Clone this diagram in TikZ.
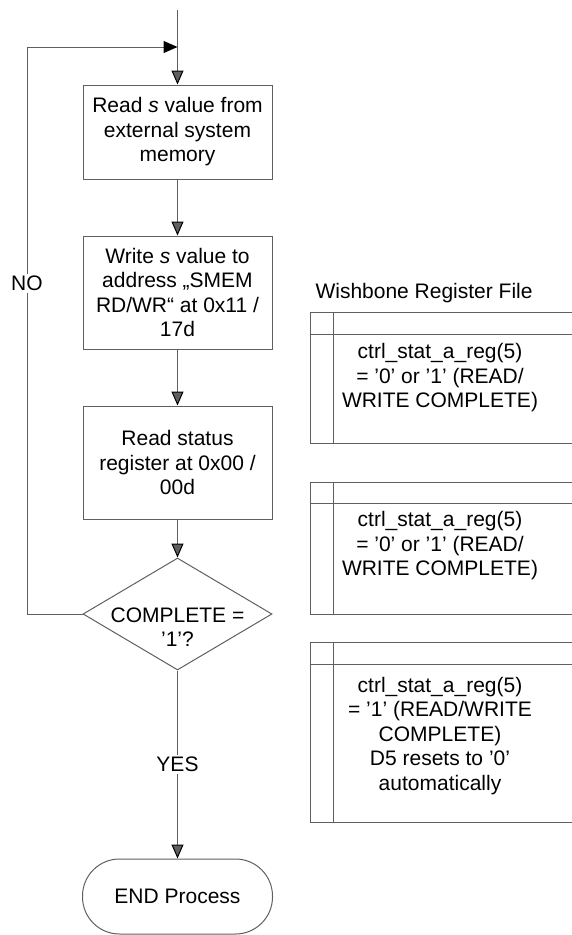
\documentclass[tikz,border=0pt]{standalone}
\usepackage{fontspec}
\setmainfont{Liberation Sans}
\usetikzlibrary{arrows.meta,positioning,shapes.geometric}
\definecolor{linegray}{RGB}{95,95,95}

\begin{document}
\begin{tikzpicture}[x=1pt,y=-1pt,on grid,
    every node/.style={font=\fontsize{21}{24.5}\selectfont},
    procbox/.style={draw=linegray,line width=1pt,minimum width=189pt,align=center,inner sep=0pt},
    decision/.style={diamond,draw=linegray,line width=1pt,minimum width=189pt,minimum height=112pt,inner sep=0pt},
    terminal/.style={draw=linegray,line width=1pt,rounded corners=37pt,minimum width=190pt,minimum height=75pt},
    flow/.style={color=linegray,line width=1pt,-{Triangle[length=14pt,width=12pt,color=black]}},
    regline/.style={draw=linegray,line width=1pt},
    flowlabel/.style={fill=white,text=black,inner sep=2pt}]
   \useasboundingbox (0,0) rectangle (572,935);

   % flow chart
   \node[procbox,minimum height=94pt] (read_s) at (177.5,132) {Read \textit{s} value from\\external system\\memory};
   \node[procbox,minimum height=113pt] (write_s) [below=160.5pt of read_s] {Write \textit{s} value to\\address „SMEM\\RD/WR“ at 0x11 /\\17d};
   \node[procbox,minimum height=113pt] (read_stat) [below=170pt of write_s] {Read status\\register at 0x00 /\\00d};
   \node[decision] (complete) [below=151.5pt of read_stat] {};
   \node[align=center] (complete_txt) [below=13pt of complete] {COMPLETE =\\'1'?};
   \node[terminal] (end_proc) [below=282.5pt of complete] {END Process};

   \coordinate (entry) at (177.5,10);
   \coordinate (merge) at (177.5,47);
   \coordinate (loop_x) at (27,47);

   \path[flow]
    (entry) edge (read_s)
    (read_s) edge (write_s)
    (write_s) edge (read_stat)
    (read_stat) edge (complete)
    (complete) edge node[flowlabel] {YES} (end_proc);

   \draw[flow] (complete.west) -- (complete.west -| loop_x)
      -- node[flowlabel,pos=0.583] {NO} (loop_x) -- (merge);

   % register file
   \node[anchor=west] (reg_title) at (312,293) {Wishbone Register File};
   \node[align=center] (reg_a) at (440,378) {ctrl\_stat\_a\_reg(5)\\= '0' or '1' (READ/\\WRITE COMPLETE)};
   \node[align=center] (reg_b) at (440,546) {ctrl\_stat\_a\_reg(5)\\= '0' or '1' (READ/\\WRITE COMPLETE)};
   \node[align=center] (reg_c) at (440,736) {ctrl\_stat\_a\_reg(5)\\= '1' (READ/WRITE\\COMPLETE)\\D5 resets to '0'\\automatically};

   \foreach \rtop/\rhead/\rbot in {312/334/443,482/503/614,642/664/822}{
     \draw[regline] (572,\rtop) -- (310,\rtop) -- (310,\rbot) -- (572,\rbot);
     \draw[regline] (310,\rhead) -- (572,\rhead);
     \draw[regline] (333,\rtop) -- (333,\rbot);
   }
\end{tikzpicture}
\end{document}
